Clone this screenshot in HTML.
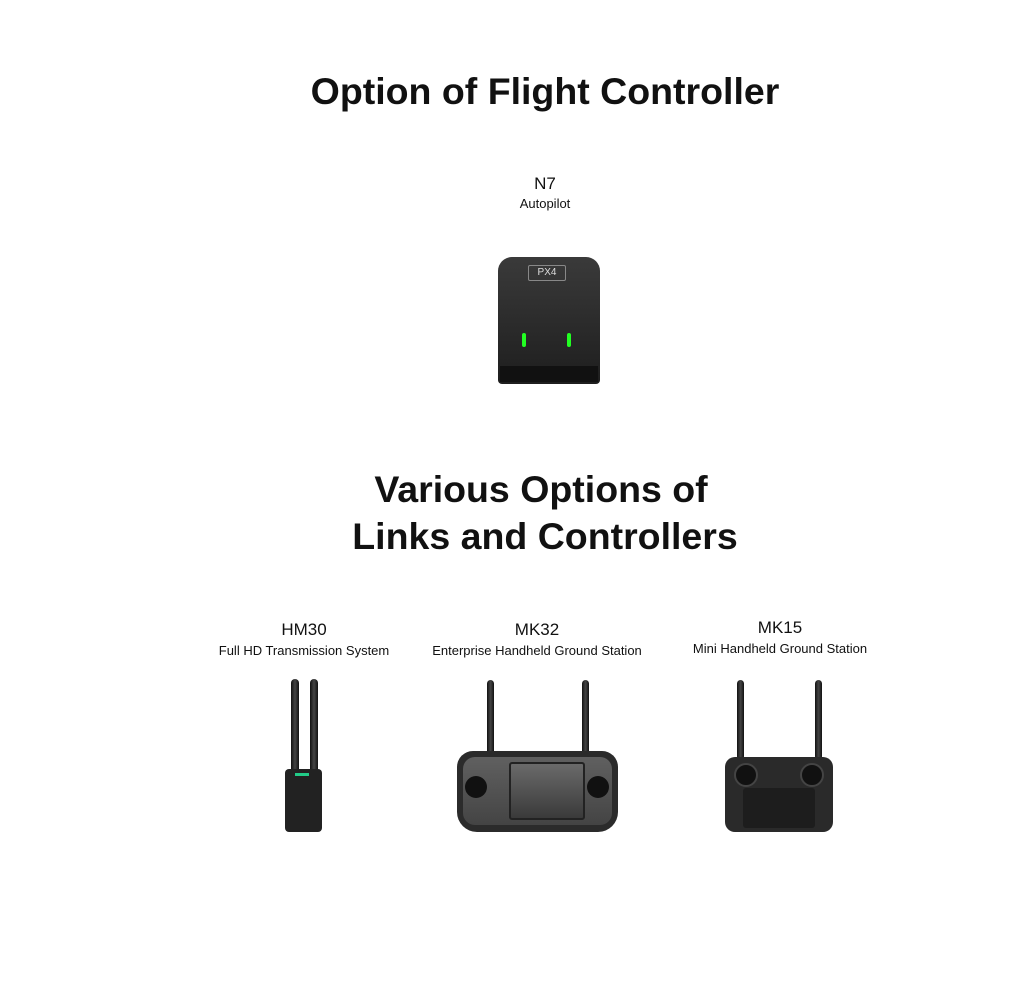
<!DOCTYPE html>
<html><head><style>
body{margin:0;width:1026px;height:985px;background:#fff;position:relative;font-family:"Liberation Sans",sans-serif;color:#111;overflow:hidden}
.t{position:absolute;white-space:nowrap;transform:translateX(-50%);text-align:center}
.h{font-weight:bold;font-size:37.5px}
.n{font-size:17px}
.s{font-size:13px}
.a{position:absolute;background:linear-gradient(90deg,#111,#444,#111);border-radius:4px}
</style></head><body>
<div class="t h" style="left:545px;top:70px">Option of Flight Controller</div>
<div class="t n" style="left:545px;top:174px">N7</div>
<div class="t s" style="left:545px;top:196px">Autopilot</div>
<div class="t h" style="left:541px;top:468px">Various Options of</div>
<div class="t h" style="left:545px;top:515px">Links and Controllers</div>
<div class="t n" style="left:304px;top:620px">HM30</div>
<div class="t s" style="left:304px;top:643px">Full HD Transmission System</div>
<div class="t n" style="left:537px;top:620px">MK32</div>
<div class="t s" style="left:537px;top:643px">Enterprise Handheld Ground Station</div>
<div class="t n" style="left:780px;top:618px">MK15</div>
<div class="t s" style="left:780px;top:641px">Mini Handheld Ground Station</div>

<!-- N7 -->
<div style="position:absolute;left:498px;top:257px;width:102px;height:127px;background:linear-gradient(#3a3a3a,#1e1e1e);border-radius:14px 14px 4px 4px"></div>
<div style="position:absolute;left:528px;top:265px;width:36px;height:14px;border:1px solid #888;border-radius:2px;color:#ddd;font-size:10px;text-align:center;line-height:14px">PX4</div>
<div style="position:absolute;left:522px;top:333px;width:4px;height:14px;background:#2f2;border-radius:2px"></div>
<div style="position:absolute;left:567px;top:333px;width:4px;height:14px;background:#2f2;border-radius:2px"></div>
<div style="position:absolute;left:500px;top:366px;width:98px;height:16px;background:#111"></div>

<!-- HM30 -->
<div class="a" style="left:291px;top:679px;width:8px;height:94px"></div>
<div class="a" style="left:310px;top:679px;width:8px;height:94px"></div>
<div style="position:absolute;left:285px;top:769px;width:37px;height:63px;background:#222;border-radius:4px"></div>
<div style="position:absolute;left:295px;top:773px;width:14px;height:3px;background:#2c8"></div>

<!-- MK32 -->
<div class="a" style="left:487px;top:680px;width:7px;height:76px"></div>
<div class="a" style="left:582px;top:680px;width:7px;height:76px"></div>
<div style="position:absolute;left:457px;top:751px;width:161px;height:81px;background:#2b2b2b;border-radius:16px 16px 20px 20px"></div>
<div style="position:absolute;left:463px;top:757px;width:149px;height:68px;background:linear-gradient(#606060,#444);border-radius:12px"></div>
<div style="position:absolute;left:509px;top:762px;width:72px;height:54px;background:linear-gradient(#6a6a6a,#3a3a3a);border:2px solid #222;border-radius:3px"></div>
<div style="position:absolute;left:465px;top:776px;width:22px;height:22px;background:#111;border-radius:50%"></div>
<div style="position:absolute;left:587px;top:776px;width:22px;height:22px;background:#111;border-radius:50%"></div>

<!-- MK15 -->
<div class="a" style="left:737px;top:680px;width:7px;height:80px"></div>
<div class="a" style="left:815px;top:680px;width:7px;height:80px"></div>
<div style="position:absolute;left:725px;top:757px;width:108px;height:75px;background:#2a2a2a;border-radius:10px"></div>
<div style="position:absolute;left:743px;top:788px;width:72px;height:40px;background:#1d1d1d;border-radius:3px"></div>
<div style="position:absolute;left:734px;top:763px;width:20px;height:20px;background:#111;border-radius:50%;border:2px solid #444"></div>
<div style="position:absolute;left:800px;top:763px;width:20px;height:20px;background:#111;border-radius:50%;border:2px solid #444"></div>
</body></html>
